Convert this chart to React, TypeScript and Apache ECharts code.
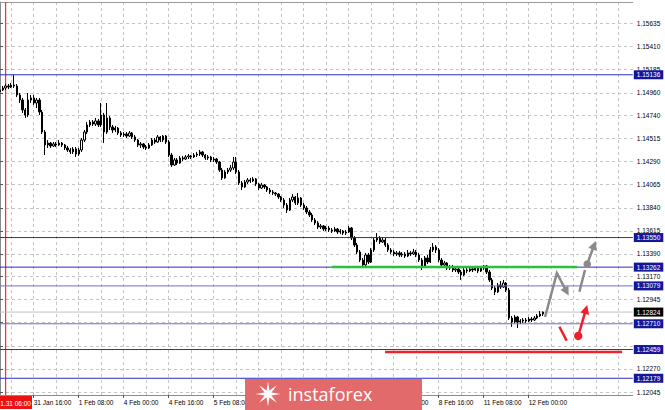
import React, { useEffect, useRef } from "react";
import * as echarts from "echarts";

// ---- time axis ----
const timeLabels = [
  "31 Jan 16:00", "1 Feb 08:00", "4 Feb 00:00", "4 Feb 16:00", "5 Feb 08:00", "6 Feb 00:00",
  "6 Feb 16:00", "7 Feb 08:00", "8 Feb 00:00", "8 Feb 16:00", "11 Feb 08:00", "12 Feb 00:00",
];
// labels that sit under the watermark in the reference and cannot be seen
const coveredLabels = ["6 Feb 00:00", "6 Feb 16:00", "7 Feb 08:00"];
const firstLabelIndex = 12;
const labelStep = 16;
const gridStep = 8;
const categoryCount = 226;
const markerIndex = 2;
const markerTime = "1.31 06:00";

// ---- H1 candles: [open, close, low, high] ----
const candles: number[][] = [
  [1.14968, 1.14988, 1.14949, 1.15007], [1.14988, 1.15007, 1.14978, 1.15027], [1.15007, 1.15027, 1.14988, 1.15046],
  [1.15027, 1.15017, 1.14997, 1.15046], [1.15017, 1.15036, 1.15007, 1.15056], [1.15036, 1.15027, 1.15007, 1.15134],
  [1.15027, 1.14939, 1.14919, 1.15046], [1.14939, 1.14890, 1.14861, 1.14958], [1.14890, 1.14793, 1.14764, 1.14910],
  [1.14793, 1.14744, 1.14715, 1.14812], [1.14744, 1.14890, 1.14725, 1.14958], [1.14890, 1.14910, 1.14861, 1.14939],
  [1.14910, 1.14861, 1.14842, 1.14939], [1.14861, 1.14890, 1.14812, 1.14910], [1.14890, 1.14773, 1.14744, 1.14910],
  [1.14773, 1.14578, 1.14559, 1.14793], [1.14578, 1.14452, 1.14354, 1.14598], [1.14452, 1.14471, 1.14423, 1.14500],
  [1.14471, 1.14442, 1.14423, 1.14481], [1.14442, 1.14462, 1.14432, 1.14481], [1.14462, 1.14452, 1.14432, 1.14481],
  [1.14452, 1.14471, 1.14442, 1.14500], [1.14471, 1.14452, 1.14432, 1.14481], [1.14452, 1.14423, 1.14403, 1.14462],
  [1.14423, 1.14403, 1.14384, 1.14442], [1.14403, 1.14384, 1.14364, 1.14423], [1.14384, 1.14413, 1.14364, 1.14432],
  [1.14413, 1.14364, 1.14335, 1.14432], [1.14364, 1.14403, 1.14345, 1.14423], [1.14403, 1.14500, 1.14384, 1.14520],
  [1.14500, 1.14578, 1.14481, 1.14598], [1.14578, 1.14647, 1.14559, 1.14676], [1.14647, 1.14676, 1.14627, 1.14695],
  [1.14676, 1.14656, 1.14637, 1.14695], [1.14656, 1.14686, 1.14637, 1.14715], [1.14686, 1.14647, 1.14627, 1.14705],
  [1.14647, 1.14744, 1.14627, 1.14861], [1.14744, 1.14578, 1.14471, 1.14764], [1.14578, 1.14715, 1.14559, 1.14861],
  [1.14715, 1.14627, 1.14598, 1.14734], [1.14627, 1.14598, 1.14569, 1.14647], [1.14598, 1.14617, 1.14578, 1.14637],
  [1.14617, 1.14569, 1.14549, 1.14627], [1.14569, 1.14549, 1.14530, 1.14588], [1.14549, 1.14559, 1.14530, 1.14578],
  [1.14559, 1.14539, 1.14520, 1.14578], [1.14539, 1.14569, 1.14530, 1.14588], [1.14569, 1.14530, 1.14510, 1.14578],
  [1.14530, 1.14500, 1.14481, 1.14549], [1.14500, 1.14452, 1.14432, 1.14510], [1.14452, 1.14462, 1.14423, 1.14481],
  [1.14462, 1.14432, 1.14413, 1.14471], [1.14432, 1.14423, 1.14403, 1.14452], [1.14423, 1.14452, 1.14413, 1.14471],
  [1.14452, 1.14500, 1.14442, 1.14520], [1.14500, 1.14481, 1.14462, 1.14520], [1.14481, 1.14530, 1.14471, 1.14549],
  [1.14530, 1.14500, 1.14481, 1.14539], [1.14500, 1.14539, 1.14481, 1.14549], [1.14539, 1.14481, 1.14462, 1.14549],
  [1.14481, 1.14354, 1.14335, 1.14500], [1.14354, 1.14257, 1.14237, 1.14374], [1.14257, 1.14306, 1.14247, 1.14325],
  [1.14306, 1.14276, 1.14257, 1.14325], [1.14276, 1.14325, 1.14267, 1.14345], [1.14325, 1.14315, 1.14296, 1.14345],
  [1.14315, 1.14335, 1.14306, 1.14354], [1.14335, 1.14345, 1.14315, 1.14364], [1.14345, 1.14335, 1.14315, 1.14354],
  [1.14335, 1.14354, 1.14325, 1.14374], [1.14354, 1.14364, 1.14335, 1.14384], [1.14364, 1.14384, 1.14345, 1.14403],
  [1.14384, 1.14354, 1.14335, 1.14393], [1.14354, 1.14325, 1.14306, 1.14364], [1.14325, 1.14335, 1.14306, 1.14354],
  [1.14335, 1.14306, 1.14286, 1.14345], [1.14306, 1.14315, 1.14286, 1.14335], [1.14315, 1.14286, 1.14267, 1.14325],
  [1.14286, 1.14208, 1.14189, 1.14296], [1.14208, 1.14130, 1.14111, 1.14228], [1.14130, 1.14189, 1.14121, 1.14208],
  [1.14189, 1.14208, 1.14169, 1.14228], [1.14208, 1.14228, 1.14189, 1.14257], [1.14228, 1.14286, 1.14208, 1.14335],
  [1.14286, 1.14189, 1.14169, 1.14335], [1.14189, 1.14082, 1.14062, 1.14208], [1.14082, 1.14043, 1.14013, 1.14101],
  [1.14043, 1.14091, 1.14033, 1.14111], [1.14091, 1.14111, 1.14072, 1.14130], [1.14111, 1.14101, 1.14082, 1.14130],
  [1.14101, 1.14121, 1.14091, 1.14140], [1.14121, 1.14072, 1.14052, 1.14130], [1.14072, 1.14033, 1.14013, 1.14082],
  [1.14033, 1.14062, 1.14023, 1.14082], [1.14062, 1.14043, 1.14023, 1.14072], [1.14043, 1.14013, 1.13994, 1.14052],
  [1.14013, 1.13994, 1.13974, 1.14033], [1.13994, 1.13984, 1.13965, 1.14013], [1.13984, 1.13974, 1.13955, 1.13994],
  [1.13974, 1.13945, 1.13926, 1.13984], [1.13945, 1.13916, 1.13896, 1.13955], [1.13916, 1.13867, 1.13838, 1.13935],
  [1.13867, 1.13818, 1.13789, 1.13887], [1.13818, 1.13916, 1.13809, 1.13935], [1.13916, 1.13945, 1.13896, 1.13974],
  [1.13945, 1.13887, 1.13867, 1.13955], [1.13887, 1.13935, 1.13867, 1.13984], [1.13935, 1.13867, 1.13848, 1.13945],
  [1.13867, 1.13838, 1.13818, 1.13887], [1.13838, 1.13799, 1.13779, 1.13857], [1.13799, 1.13770, 1.13750, 1.13818],
  [1.13770, 1.13721, 1.13702, 1.13789], [1.13721, 1.13692, 1.13672, 1.13740], [1.13692, 1.13653, 1.13633, 1.13711],
  [1.13653, 1.13663, 1.13633, 1.13682], [1.13663, 1.13633, 1.13614, 1.13672], [1.13633, 1.13643, 1.13614, 1.13663],
  [1.13643, 1.13624, 1.13604, 1.13663], [1.13624, 1.13614, 1.13594, 1.13643], [1.13614, 1.13633, 1.13604, 1.13653],
  [1.13633, 1.13604, 1.13585, 1.13643], [1.13604, 1.13614, 1.13585, 1.13633], [1.13614, 1.13594, 1.13575, 1.13624],
  [1.13594, 1.13604, 1.13575, 1.13624], [1.13604, 1.13643, 1.13594, 1.13663], [1.13643, 1.13546, 1.13526, 1.13653],
  [1.13546, 1.13477, 1.13458, 1.13565], [1.13477, 1.13409, 1.13390, 1.13497], [1.13409, 1.13331, 1.13312, 1.13429],
  [1.13331, 1.13283, 1.13253, 1.13351], [1.13283, 1.13380, 1.13263, 1.13400], [1.13380, 1.13312, 1.13292, 1.13400],
  [1.13312, 1.13429, 1.13302, 1.13448], [1.13429, 1.13526, 1.13409, 1.13546], [1.13526, 1.13546, 1.13507, 1.13594],
  [1.13546, 1.13507, 1.13487, 1.13565], [1.13507, 1.13526, 1.13497, 1.13555], [1.13526, 1.13477, 1.13458, 1.13546],
  [1.13477, 1.13429, 1.13409, 1.13497], [1.13429, 1.13409, 1.13390, 1.13448], [1.13409, 1.13390, 1.13370, 1.13429],
  [1.13390, 1.13400, 1.13370, 1.13419], [1.13400, 1.13380, 1.13360, 1.13419], [1.13380, 1.13390, 1.13360, 1.13409],
  [1.13390, 1.13370, 1.13351, 1.13409], [1.13370, 1.13400, 1.13360, 1.13429], [1.13400, 1.13390, 1.13370, 1.13419],
  [1.13390, 1.13409, 1.13380, 1.13439], [1.13409, 1.13380, 1.13360, 1.13429], [1.13380, 1.13331, 1.13312, 1.13400],
  [1.13331, 1.13263, 1.13234, 1.13351], [1.13263, 1.13351, 1.13253, 1.13370], [1.13351, 1.13312, 1.13292, 1.13380],
  [1.13312, 1.13429, 1.13302, 1.13458], [1.13429, 1.13458, 1.13409, 1.13497], [1.13458, 1.13429, 1.13400, 1.13477],
  [1.13429, 1.13331, 1.13312, 1.13448], [1.13331, 1.13283, 1.13263, 1.13351], [1.13283, 1.13302, 1.13263, 1.13322],
  [1.13302, 1.13253, 1.13234, 1.13312], [1.13253, 1.13263, 1.13234, 1.13283], [1.13263, 1.13234, 1.13214, 1.13283],
  [1.13234, 1.13244, 1.13214, 1.13263], [1.13244, 1.13214, 1.13195, 1.13253], [1.13214, 1.13185, 1.13137, 1.13234],
  [1.13185, 1.13234, 1.13175, 1.13253], [1.13234, 1.13224, 1.13204, 1.13253], [1.13224, 1.13244, 1.13214, 1.13263],
  [1.13244, 1.13234, 1.13214, 1.13263], [1.13234, 1.13253, 1.13224, 1.13273], [1.13253, 1.13224, 1.13204, 1.13263],
  [1.13224, 1.13253, 1.13214, 1.13273], [1.13253, 1.13273, 1.13234, 1.13283], [1.13273, 1.13214, 1.13195, 1.13283],
  [1.13214, 1.13137, 1.13117, 1.13234], [1.13137, 1.13059, 1.13039, 1.13156], [1.13059, 1.13020, 1.12990, 1.13078],
  [1.13020, 1.13088, 1.13010, 1.13107], [1.13088, 1.13068, 1.13049, 1.13127], [1.13068, 1.13107, 1.13059, 1.13137],
  [1.13107, 1.13039, 1.13020, 1.13117], [1.13039, 1.12766, 1.12747, 1.13059], [1.12766, 1.12727, 1.12679, 1.12786],
  [1.12727, 1.12776, 1.12718, 1.12795], [1.12776, 1.12727, 1.12669, 1.12786], [1.12727, 1.12737, 1.12708, 1.12756],
  [1.12737, 1.12747, 1.12718, 1.12766], [1.12747, 1.12737, 1.12718, 1.12766], [1.12737, 1.12756, 1.12727, 1.12776],
  [1.12756, 1.12747, 1.12727, 1.12776], [1.12747, 1.12766, 1.12737, 1.12786], [1.12766, 1.12786, 1.12756, 1.12805],
  [1.12786, 1.12805, 1.12776, 1.12834], [1.12805, 1.12824, 1.12786, 1.12830],
];

// ---- price axis ----
const yGridValues = [
  1.15635, 1.1541, 1.15185, 1.1496, 1.1474, 1.14515, 1.1429, 1.14065, 1.1384,
  1.13615, 1.1339, 1.1317, 1.12945, 1.1272, 1.12495, 1.1227, 1.12045,
];
// labels 1.12720 and 1.12495 are covered by the level boxes in the reference
const yLabelValues = [
  1.15635, 1.1541, 1.15185, 1.1496, 1.1474, 1.14515, 1.1429, 1.14065, 1.1384,
  1.13615, 1.1339, 1.1317, 1.12945, 1.1227, 1.12045,
];
const yMin = 1.12016;
const yMax = 1.15845;

// ---- levels & annotations ----
const levels = [1.15136, 1.1355, 1.13262, 1.13079, 1.1271, 1.12459, 1.12179];
const lightLevels = [1.13079, 1.1271];
const bidPrice = 1.12824;
const greenLevel = [[118, 1.13262], [205.2, 1.13262]];
const redLevel = [[136.9, 1.12435], [221.2, 1.12435]];
const grayPath = [[193.8, 1.12776], [198.0, 1.13204], [202.2, 1.12985]];
const graySeg = [[206.0, 1.13022], [208.0, 1.13234]];
const grayDot = [208.8, 1.13292];
const grayArrow = [[208.8, 1.13292], [211.8, 1.13517]];
const redSeg = [[198.9, 1.12681], [201.5, 1.12545]];
const redDot = [205.6, 1.12591];
const redArrow = [[205.6, 1.12591], [208.8, 1.12893]];

const FONT = "Liberation Sans, Arial, sans-serif";

function categoryName(i: number): string {
  const k = (i - firstLabelIndex) / labelStep;
  if (Number.isInteger(k) && k >= 0 && k < timeLabels.length) return timeLabels[k];
  return "#" + i;
}

function arrowSeries(points: number[][], color: string, width: number, head: boolean) {
  return {
    type: "custom",
    xAxisIndex: 1,
    yAxisIndex: 0,
    silent: true,
    z: 8,
    data: [[points[0][0], points[0][1]]],
    renderItem: (_params: any, api: any) => {
      const pts = points.map((p) => api.coord(p));
      const children: any[] = [];
      const linePts = pts.map((p) => [p[0], p[1]]);
      if (head) {
        const e = pts[pts.length - 1];
        const s = pts[pts.length - 2];
        const dx = e[0] - s[0];
        const dy = e[1] - s[1];
        const len = Math.hypot(dx, dy) || 1;
        const ux = dx / len;
        const uy = dy / len;
        const hl = 9;
        const hw = 4.5;
        const bx = e[0] - ux * hl;
        const by = e[1] - uy * hl;
        linePts[linePts.length - 1] = [e[0] - ux * (hl - 2), e[1] - uy * (hl - 2)];
        children.push({
          type: "polygon",
          shape: { points: [[e[0], e[1]], [bx - uy * hw, by + ux * hw], [bx + uy * hw, by - ux * hw]] },
          style: { fill: color },
        });
      }
      children.unshift({
        type: "polyline",
        shape: { points: linePts },
        style: { stroke: color, lineWidth: width, fill: null, lineJoin: "miter" },
      });
      return { type: "group", children };
    },
  };
}

function dotSeries(pt: number[], color: string, r: number) {
  return {
    type: "custom",
    xAxisIndex: 1,
    yAxisIndex: 0,
    silent: true,
    z: 9,
    data: [pt],
    renderItem: (_params: any, api: any) => {
      const c = api.coord(pt);
      return { type: "circle", shape: { cx: c[0], cy: c[1], r }, style: { fill: color } };
    },
  };
}

function priceLabel(v: number, bg: string) {
  return {
    show: true,
    position: "end",
    distance: 1,
    formatter: () => v.toFixed(5),
    color: "#ffffff",
    backgroundColor: bg,
    padding: [1, 3, 1, 3],
    fontSize: 6.5,
    fontFamily: FONT,
  };
}

const starPath =
  "M10 0L2.77 1.15L7.07 7.07L1.15 2.77L0 10L-1.15 2.77L-7.07 7.07L-2.77 1.15L-10 0L-2.77 -1.15L-7.07 -7.07L-1.15 -2.77L0 -10L1.15 -2.77L7.07 -7.07L2.77 -1.15Z";
let registered = false;

export default function App() {
  const ref = useRef<HTMLDivElement>(null);
  useEffect(() => {
    document.body.style.margin = "0";
    if (!registered) {
      echarts.graphic.registerShape("logo", echarts.graphic.extendPath(starPath, {}));
      registered = true;
    }
    const chart = echarts.init(ref.current!, null, { renderer: "svg" });
    const categories = Array.from({ length: categoryCount }, (_, i) => categoryName(i));
    const isLabel = (i: number) => !categories[i].startsWith("#");

    const levelSeries = levels.map((v) => ({
      type: "line",
      xAxisIndex: 1,
      data: [[0, v], [categoryCount - 1, v]],
      symbol: "none",
      silent: true,
      z: 4,
      lineStyle: { color: lightLevels.includes(v) ? "#6f6fd4" : "#2b2bc0", width: 1 },
      endLabel: priceLabel(v, "#16169a"),
    }));

    const option: any = {
      animation: false,
      backgroundColor: "#ffffff",
      grid: {
        left: 0,
        right: 32.2,
        top: 2,
        bottom: 15,
        show: false,
      },
      xAxis: [
        {
          type: "category",
          data: categories,
          boundaryGap: false,
          axisLine: { show: true, lineStyle: { color: "#8a8a8a" } },
          axisTick: { show: true, interval: (i: number) => isLabel(i), length: 3, lineStyle: { color: "#555" } },
          axisLabel: {
            interval: (i: number) => isLabel(i),
            formatter: (v: string) => (coveredLabels.includes(v) ? "" : v),
            align: "left",
            margin: 4,
            fontSize: 6.5,
            color: "#000",
            fontFamily: FONT,
          },
          splitLine: {
            show: true,
            interval: (i: number) => i % gridStep === firstLabelIndex % gridStep,
            lineStyle: { color: "#c4c4c4", type: [3, 3], width: 1 },
          },
        },
        {
          type: "value",
          min: 0,
          max: categoryCount - 1,
          position: "top",
          axisLine: { show: true, lineStyle: { color: "#9a9a9a" } },
          axisTick: { show: false },
          axisLabel: { show: false },
          splitLine: { show: false },
        },
      ],
      yAxis: {
        type: "value",
        position: "right",
        min: yMin,
        max: yMax,
        axisLine: { show: true, lineStyle: { color: "#8a8a8a" } },
        axisTick: { show: true, customValues: yGridValues, length: 3, lineStyle: { color: "#555" } },
        axisLabel: {
          customValues: yLabelValues,
          formatter: (v: number) => v.toFixed(5),
          margin: 4,
          fontSize: 6.5,
          color: "#000",
          fontFamily: FONT,
        },
        splitLine: { show: true, lineStyle: { color: "#c4c4c4", type: [3, 3], width: 1 } },
      },
      series: [
        {
          // time marker
          type: "line",
          xAxisIndex: 1,
          data: [[markerIndex, yMin], [markerIndex, yMax]],
          symbol: "none",
          silent: true,
          z: 2,
          lineStyle: { color: "#ff2a2a", width: 1.2 },
        },
        {
          type: "candlestick",
          data: candles,
          barWidth: 1.8,
          itemStyle: {
            color: "#ffffff",
            color0: "#000000",
            borderColor: "#000000",
            borderColor0: "#000000",
            borderWidth: 1,
          },
          z: 3,
        },
        {
          // bid line
          type: "line",
          xAxisIndex: 1,
          data: [[0, bidPrice], [categoryCount - 1, bidPrice]],
          symbol: "none",
          silent: true,
          z: 2,
          lineStyle: { color: "#c2c2c2", width: 1 },
          endLabel: priceLabel(bidPrice, "#000000"),
        },
        ...levelSeries,
        {
          type: "line",
          xAxisIndex: 1,
          data: greenLevel,
          symbol: "none",
          silent: true,
          z: 6,
          lineStyle: { color: "#2dbf3c", width: 2.5 },
        },
        {
          type: "line",
          xAxisIndex: 1,
          data: redLevel,
          symbol: "none",
          silent: true,
          z: 6,
          lineStyle: { color: "#f0232b", width: 2.5 },
        },
        arrowSeries(grayPath, "#8a8a8a", 2.5, true),
        arrowSeries(graySeg, "#8a8a8a", 2.5, false),
        arrowSeries(grayArrow, "#8a8a8a", 2.5, true),
        dotSeries(grayDot, "#8a8a8a", 3.8),
        arrowSeries(redSeg, "#ee1f2b", 2.5, false),
        arrowSeries(redArrow, "#ee1f2b", 2.5, true),
        dotSeries(redDot, "#ee1f2b", 4.2),
      ],
      graphic: [
        {
          type: "rect",
          z: 100,
          shape: { x: 245, y: 379, width: 177, height: 31 },
          style: { fill: "#e26a6a" },
        },
        {
          type: "logo",
          z: 101,
          x: 268,
          y: 394,
          scaleX: 1.25,
          scaleY: 1.25,
          style: { fill: "#ffffff" },
        },
        {
          type: "text",
          z: 101,
          x: 288,
          y: 394,
          style: {
            text: "instaforex",
            fill: "#ffffff",
            fontSize: 18,
            fontFamily: "Open Sans, Noto Sans, sans-serif",
            verticalAlign: "middle",
            align: "left",
          },
        },
        {
          type: "rect",
          z: 100,
          shape: { x: 0, y: 396, width: 32, height: 13 },
          style: { fill: "#ee1111" },
        },
        {
          type: "text",
          z: 101,
          x: 31,
          y: 403,
          style: {
            text: markerTime,
            fill: "#ffffff",
            fontSize: 6.5,
            fontFamily: FONT,
            align: "right",
            verticalAlign: "middle",
          },
        },
      ],
    };
    chart.setOption(option);
    return () => chart.dispose();
  }, []);
  return <div ref={ref} style={{ width: 665, height: 410 }} />;
}
